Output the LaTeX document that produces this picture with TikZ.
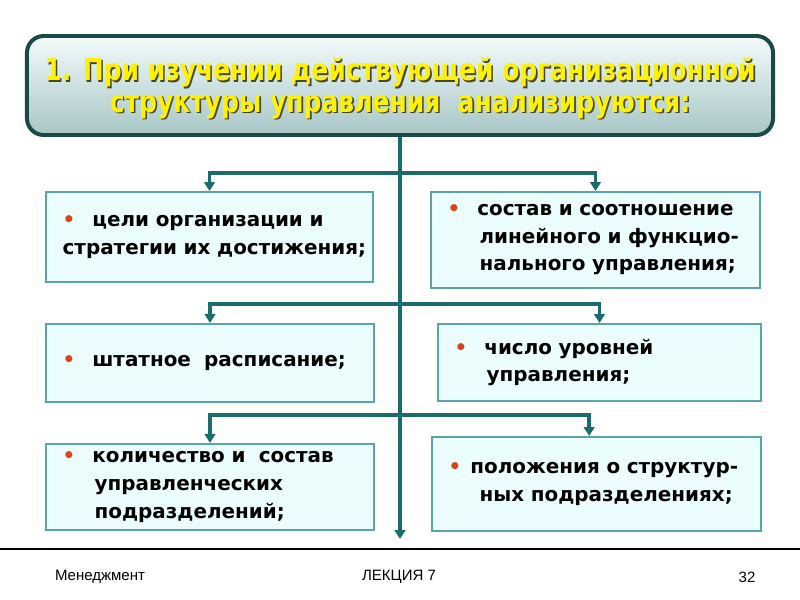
\documentclass[tikz,border=0pt]{standalone}
\usepackage{fontspec}
\setmainfont{DejaVu Sans}
\newfontfamily\titlefont[FakeStretch=0.82]{DejaVu Sans Bold}
\newfontfamily\footfont{Liberation Sans}
\usetikzlibrary{arrows.meta}

\definecolor{flow}{RGB}{28,108,108}
\definecolor{boxline}{RGB}{90,165,165}
\definecolor{boxfill}{RGB}{236,253,253}
\definecolor{titleline}{RGB}{28,72,72}
\definecolor{titletop}{RGB}{242,251,251}
\definecolor{titlebot}{RGB}{168,198,198}
\definecolor{shadowtext}{RGB}{70,70,40}
\definecolor{dot}{RGB}{215,70,20}

\newcommand{\bul}[1][0.85em]{\mbox{\textcolor{dot}{•}\hspace{#1}}}
\newcommand{\ind}[1][0.85em]{\mbox{\phantom{\textcolor{dot}{•}}\hspace{#1}\hspace{2pt}}}
\newcommand{\headtext}{1. При изучении действующей организационной\\структуры управления~~анализируются:}

\tikzset{
  flowline/.style={draw=flow, line width=3pt},
  flowarrow/.style={flowline, -{Triangle[width=9pt,length=7.5pt]}},
  item/.style={draw=boxline, line width=1.8pt, fill=boxfill, inner xsep=0.5cm,
    inner ysep=0pt, align=left, font=\bfseries\fontsize{17}{23.5}\selectfont},
  heading/.style={align=center, font=\titlefont\fontsize{26}{27}\selectfont},
  foot/.style={font=\footfont\fontsize{12.8}{14}\selectfont},
}

\begin{document}
\begin{tikzpicture}[x=0.03cm, y=-0.03cm]
  \useasboundingbox (0,0) rectangle (800,600);

  % title
  \node [draw=titleline, line width=3.4pt, rounded corners=0.5cm,
         top color=titletop, bottom color=titlebot,
         minimum width=22.38cm, minimum height=2.97cm] at (400,85.5) (Title) {};
  \node [heading, text=shadowtext] at (401.6,89.6) {\headtext};
  \node [heading, text=yellow]     at (400,88) (Heading) {\headtext};

  % boxes
  \node [item, text width=8.81cm, minimum height=2.7cm]  at (209.5,237) (Goals)
        {\bul цели~организации~и\\стратегии~их~достижения;};
  \node [item, text width=8.87cm, minimum height=2.88cm] at (595.5,240) (Ratio)
        {\bul состав~и~соотношение\\\ind линейного~и~функцио-\\\ind нального~управления;};
  \node [item, text width=8.84cm, minimum height=2.34cm] at (210,363)   (Staff)
        {\bul штатное~~расписание;};
  \node [item, text width=8.69cm, minimum height=2.31cm] at (599.5,362.5) (Levels)
        {\bul число~уровней\\\ind управления;};
  \node [item, text width=8.84cm, minimum height=2.58cm] at (210,487)   (Units)
        {\bul количество~и~~состав\\\ind управленческих\\\ind подразделений;};
  \node [item, text width=8.87cm, minimum height=2.82cm] at (596.5,484) (Rules)
        {\bul[0.45em]положения~о~структур-\\\ind[0.8em]ных~подразделениях;};

  % connectors
  \coordinate (End)  at (400,539);
  \coordinate (Row1) at (400,173);
  \coordinate (Row2) at (400,304);
  \coordinate (Row3) at (400,415);

  \draw [flowarrow] (Title.south) -- (End);
  \draw [flowarrow] (Row1) -| (Goals.north);
  \draw [flowarrow] (Row1) -| (Ratio.north);
  \draw [flowarrow] (Row2) -| (Staff.north);
  \draw [flowarrow] (Row2) -| (Levels.north);
  \draw [flowarrow] (Row3) -| (Units.north);
  \draw [flowarrow] (Row3) -| ([xshift=-0.22cm]Rules.north);

  % footer
  \draw [line width=1.3pt] (0,549) -- (800,549);
  \node [foot] at (100,577) (Course)  {Менеджмент};
  \node [foot] at (399,577) (Lecture) {ЛЕКЦИЯ 7};
  \node [foot] at (747,577) (Page)    {32};
\end{tikzpicture}
\end{document}
